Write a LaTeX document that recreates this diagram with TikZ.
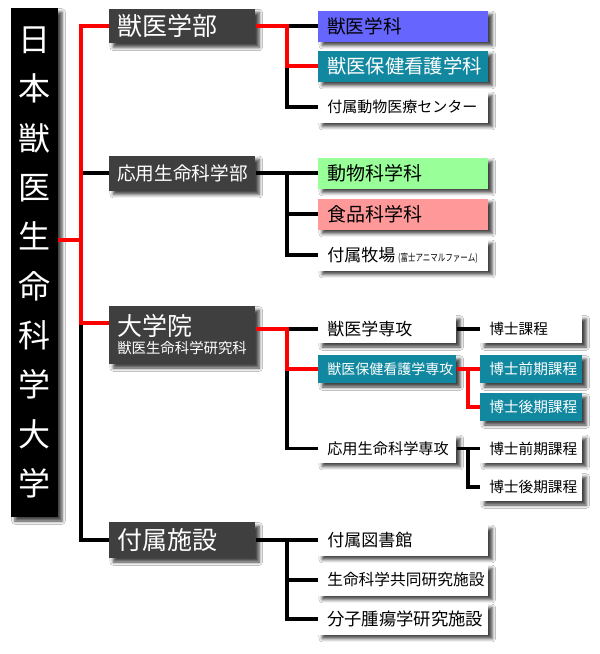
\documentclass[tikz,border=0pt]{standalone}
\usepackage{fontspec}
\setmainfont{Noto Sans CJK JP}
\usetikzlibrary{shadows.blur}
\definecolor{deptc}{HTML}{3F3F3F}
\definecolor{bluc}{HTML}{6666FF}
\definecolor{tealc}{HTML}{1188A0}
\definecolor{grnc}{HTML}{99FF99}
\definecolor{pnkc}{HTML}{FF9999}
\definecolor{redc}{HTML}{FF0000}
\newcommand\fs[1]{\fontsize{#1pt}{#1pt}\selectfont}
\pgfdeclarelayer{bg}\pgfsetlayers{bg,main}
\tikzset{
 sh/.style={blur shadow={shadow xshift=3pt, shadow yshift=-3pt, shadow blur radius=2.5pt, shadow opacity=75}},
 box/.style={sh, anchor=west, inner xsep=6.75pt, inner ysep=0pt, align=left, draw=none},
 deptbox/.style={box, inner xsep=6pt, text width=97.5pt, fill=deptc, text=white, minimum height=26pt},
 subbox/.style={box, text width=114pt, minimum height=23.25pt, fill=white, text=black},
 gradbox/.style={box, text width=90pt, minimum height=21pt, fill=white, text=black},
 docbox/.style={box, text width=63pt, minimum height=21pt, fill=white, text=black},
 blk/.style={draw=black, line width=2.4pt},
 rd/.style={draw=redc, line width=2.4pt},
 shline/.style={draw=black, opacity=0.35, line width=3pt},
}
\newcommand\wires{
 \draw[blk] (d2.west) -- (d2.west -| xa);
 \draw[blk] (d4.west) -| ([yshift=9pt]d3.west -| xa);
 \draw[rd] (bar.east |- j0) -- (j0);
 \draw[rd] (d1.west) -| (j0);
 \draw[rd] ([yshift=9pt]d3.west) -| (j0);
 \draw[blk] (s11.west) -- (s11.west -| xb);
 \draw[blk] (s12.west -| xb) |- (s13.west);
 \draw[rd] (d1.east) -- (d1.east -| xb) |- (s12.west);
 \draw[blk] (d2.east) -- (s21.west);
 \draw[blk] (s21.west -| xb) |- (s22.west);
 \draw[blk] (s21.west -| xb) |- (s23.west);
 \draw[blk] (d3.east |- g1.west -| xb) -- (g1.west);
 \draw[blk] (g2.west -| xb) |- (g3.west);
 \draw[rd] (d3.east |- g1.west) -- (g1.west -| xb) |- (g2.west);
 \draw[blk] (g1.east) -- (p1.west);
 \draw[rd] (g2.east) -- (p2.west);
 \draw[rd] (g2.east -| xc) |- (p3.west);
 \draw[blk] (g3.east) -- (p4.west);
 \draw[blk] (g3.east -| xc) |- (p5.west);
 \draw[blk] (d4.east) -- (f1.west);
 \draw[blk] (f1.west -| xb) |- (f2.west);
 \draw[blk] (f1.west -| xb) |- (f3.west);
}
\begin{document}
\begin{tikzpicture}[x=0.75pt,y=-0.75pt]
\useasboundingbox (0,0) rectangle (600,654);
\fill[white] (0,0) rectangle (600,654);
\coordinate (xa) at (81,0);
\coordinate (xb) at (287,0);
\coordinate (xc) at (468,0);
\coordinate (j0) at (81,240);
% title bar
\node[sh, fill=black, text=white, minimum width=35.25pt, minimum height=381.75pt, inner sep=0pt, align=center,
  font=\fontsize{24pt}{37pt}\selectfont] (bar) at (34.5,262.5)
  {日\\本\\獣\\医\\生\\命\\科\\学\\大\\学};
% departments
\node[deptbox, font=\fs{18.75}] (d1) at (109,26) {獣医学部};
\node[deptbox, font=\fs{14}, minimum height=26.25pt] (d2) at (109,173) {応用生命科学部};
\node[deptbox, minimum height=43.5pt] (d3) at (109,335) {{\fs{18.75}大学院}\\[1.5pt]{\fs{10.8}獣医生命科学研究科}};
\node[deptbox, font=\fs{18.75}, minimum height=27pt] (d4) at (109,540) {付属施設};
% group 1
\node[subbox, fill=bluc, font=\fs{14}] (s11) at (318,26) {獣医学科};
\node[subbox, fill=tealc, text=white, font=\fs{14.5}] (s12) at (318,66) {獣医保健看護学科};
\node[subbox, font=\fs{11.25}] (s13) at (318,107) {付属動物医療センター};
% group 2
\node[subbox, fill=grnc, font=\fs{14.25}] (s21) at (318,173) {動物科学科};
\node[subbox, fill=pnkc, font=\fs{14.25}] (s22) at (318,214) {食品科学科};
\node[subbox, font=\fs{12.75}] (s23) at (318,255) {\mbox{付属牧場\,{\fs{7.5}\scalebox{0.75}[1]{(富士アニマルファーム)}}}};
% group 3
\node[gradbox, font=\fs{12.75}] (g1) at (318,329) {獣医学専攻};
\node[gradbox, fill=tealc, text=white, font=\fs{10.5}] (g2) at (318,369) {獣医保健看護学専攻};
\node[gradbox, font=\fs{11.4}] (g3) at (318,448.5) {応用生命科学専攻};
\node[docbox, font=\fs{11}] (p1) at (480,329) {博士課程};
\node[docbox, fill=tealc, text=white, font=\fs{11}] (p2) at (480,369) {博士前期課程};
\node[docbox, fill=tealc, text=white, font=\fs{11}] (p3) at (480,407) {博士後期課程};
\node[docbox, font=\fs{11}] (p4) at (480,448.5) {博士前期課程};
\node[docbox, font=\fs{11}] (p5) at (480,487) {博士後期課程};
% group 4
\node[subbox, font=\fs{12.75}] (f1) at (318,540) {付属図書館};
\node[subbox, font=\fs{11.8}] (f2) at (318,580) {生命科学共同研究施設};
\node[subbox, font=\fs{13}] (f3) at (318,619) {分子腫瘍学研究施設};
% wire shadows
\begin{pgfonlayer}{bg}
\begin{scope}[transform canvas={shift={(2.4pt,-2.4pt)}}, blk/.style={shline}, rd/.style={shline}]
\wires
\end{scope}
\end{pgfonlayer}
\wires
\end{tikzpicture}
\end{document}
